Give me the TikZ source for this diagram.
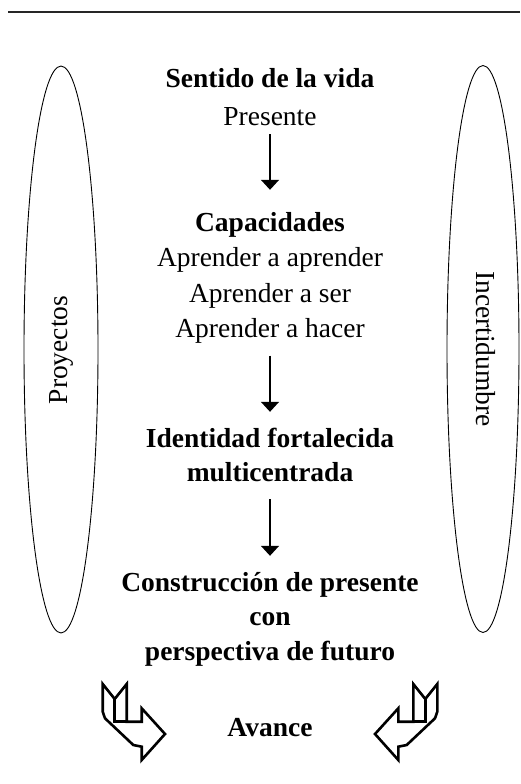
\documentclass[tikz,border=0pt]{standalone}
\usepackage{fontspec}
\setmainfont{Liberation Serif}
\usetikzlibrary{arrows.meta}
\tikzset{>={Triangle[width=18pt, length=10pt]}}
\tikzset{
	lado/.style={anchor=base, inner sep=0pt, font=\fontsize{27.5}{30}\selectfont},
	texto/.style={lado, text height=18pt, text depth=5pt},
	titulo/.style={texto, font=\fontsize{27.5}{30}\selectfont\bfseries},
	flecha/.style={->, line width=1.6pt, shorten <=13pt, shorten >=17pt},
	avancebox/.style={line width=2.6pt, miter limit=20}
}
\newcommand{\flechaavance}[1]{
	\draw[avancebox, shift={(270, 0)}, xscale=#1](-167.3, 684)--(-155.3, 699)--(-143.3, 684)--(-143.3, 721.7)--(-128.3, 721.7)--(-128.3, 708.3)--(-105, 734)--(-128.3, 760)--(-128.3, 746.7)--(-136.7, 745)--(-165, 718.3)--(-167.3, 711.7)--cycle;
	\draw[avancebox, shift={(270, 0)}, xscale=#1](-155.3, 699)--(-155.3, 721.7)--(-143.3, 721.7)
}

\begin{document}
\begin{tikzpicture}[x=1pt, y=-1pt]
	\useasboundingbox (0, 0) rectangle (520, 784);
	\draw[line width=1.1pt, black!85](8, 12)--(520, 12);
	% laterales
	\draw[line width=0.9pt](61, 349.5) ellipse [x radius=37, y radius=283.5];
	\draw[line width=0.9pt](483, 349) ellipse [x radius=36, y radius=283.5];
	\node[lado, rotate=90](proyectos) at (67, 350){Proyectos};
	\node[lado, rotate=-90](incertidumbre) at (476, 349){Incertidumbre};
	% columna central
	\node[titulo](sentido) at (270, 87){Sentido de la vida};
	\node[texto](presente) at (270, 125){Presente};
	\node[titulo](capacidades) at (270, 231){Capacidades};
	\node[texto](aprender) at (270, 266.5){Aprender a aprender};
	\node[texto](ser) at (270, 302){Aprender a ser};
	\node[texto](hacer) at (270, 337.5){Aprender a hacer};
	\node[titulo](identidad) at (270, 447){Identidad fortalecida};
	\node[titulo](multi) at (270, 481){multicentrada};
	\node[titulo](construccion) at (270, 591){Construcción de presente};
	\node[titulo](con) at (270, 625.5){con};
	\node[titulo](perspectiva) at (270, 660){perspectiva de futuro};
	\node[titulo](avance) at (270, 736){Avance};
	\draw[flecha, shorten <=4pt, shorten >=23pt](presente)--(capacidades);
	\draw[flecha](hacer)--(identidad);
	\draw[flecha](multi)--(construccion);
	% flechas de avance
	\flechaavance{1};
	\flechaavance{-1};
\end{tikzpicture}
\end{document}
